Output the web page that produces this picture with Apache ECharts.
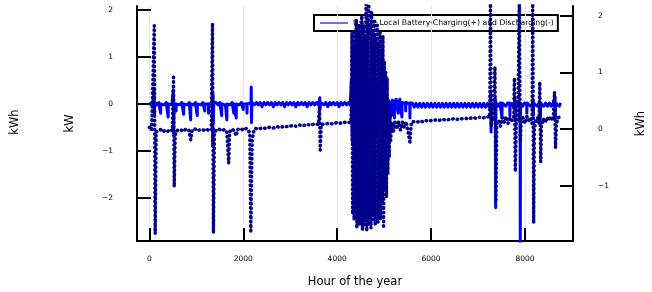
<!DOCTYPE html>
<html>
<head>
<meta charset="utf-8">
<script src="https://cdn.jsdelivr.net/npm/echarts@6/dist/echarts.min.js"></script>
<style>
  html, body { margin: 0; padding: 0; background: #fff; }
  #chart { width: 652px; height: 292px; }
</style>
</head>
<body>
<div id="chart"></div>
<script>
// tick positions
const xTicks = [0, 2000, 4000, 6000, 8000];
const kwTicks = [-2, -1, 0, 1, 2];
const kwhTicks = [-1, 0, 1, 2];

// battery usage, kW  [hour, value]
const usageKW = [
  [0,0.03],[40,-0.02],[80,0.03],[96,0.02],[100,0.3],[106,-0.25],[112,0.03],[160,-0.02],[200,0.03],[236,0.0],[240,-0.2],[244,0.0],
  [280,0.03],[320,-0.02],[360,0.03],[396,0.0],[400,-0.28],[404,0.0],[440,0.03],[480,-0.02],[505,0.02],[510,0.3],[518,-0.66],[526,0.03],
  [566,0.0],[570,-0.15],[574,0.0],[610,0.03],[650,-0.02],[690,0.03],[726,0.0],[730,-0.22],[734,0.0],[770,0.03],[810,-0.02],[850,0.03],
  [876,0.0],[880,-0.34],[884,0.0],[940,-0.02],[980,0.03],[1016,0.0],[1020,-0.25],[1024,0.0],[1060,0.03],[1100,-0.02],[1140,0.03],
  [1176,0.0],[1180,-0.15],[1184,0.0],[1220,0.03],[1256,0.0],[1260,-0.2],[1264,0.0],[1300,0.03],[1336,0.02],[1340,0.26],[1348,-0.9],
  [1356,0.2],[1364,-0.4],[1372,0.03],[1420,0.03],[1460,-0.02],[1500,0.03],[1536,0.0],[1540,-0.25],[1544,0.0],[1580,0.03],[1620,-0.02],
  [1646,0.0],[1650,-0.34],[1654,0.0],[1680,0.03],[1720,-0.02],[1760,0.03],[1796,0.0],[1800,-0.2],[1804,0.0],[1846,0.0],[1850,-0.3],
  [1854,0.0],[1880,0.03],[1920,-0.02],[1960,0.03],[1996,0.0],[2000,-0.12],[2004,0.0],[2040,0.03],[2076,0.0],[2080,-0.2],[2084,0.0],
  [2120,0.03],[2166,0.02],[2170,0.36],[2176,-0.4],[2182,0.03],[2240,-0.02],[2280,0.03],[2320,-0.02],[2360,0.03],[2400,-0.06],[2440,0.03],
  [2480,-0.02],[2520,0.03],[2560,-0.02],[2600,0.03],[2640,-0.06],[2680,0.03],[2720,-0.02],[2760,0.03],[2800,-0.02],[2840,0.03],
  [2880,-0.06],[2920,0.03],[2960,-0.02],[3000,0.03],[3040,-0.02],[3080,0.03],[3120,-0.06],[3160,0.03],[3200,-0.02],[3240,0.03],
  [3280,-0.02],[3320,0.03],[3360,-0.06],[3400,0.03],[3440,-0.02],[3480,0.03],[3520,-0.02],[3560,0.03],[3600,-0.02],[3626,0.02],
  [3630,0.13],[3636,-0.1],[3642,0.03],[3680,0.03],[3720,-0.02],[3760,0.03],[3800,-0.06],[3840,0.03],[3880,-0.02],[3920,0.03],
  [3960,-0.02],[4000,0.03],[4040,-0.06],[4080,0.03],[4120,-0.02],[4160,0.03],[4200,-0.02],[4240,0.03],[4280,-0.02],
  [4300,0.5],[4320,-0.8],[4340,0.4],[4360,-0.9],[4380,0.6],[4400,-0.7],[4420,0.3],[4440,-0.85],[4460,0.55],[4480,-0.75],
  [4500,0.45],[4520,-0.9],[4540,0.6],[4560,-0.8],[4580,0.4],[4600,-0.7],[4620,0.5],[4640,-0.9],[4660,0.35],[4680,-0.8],
  [4700,0.5],[4720,-0.6],[4740,0.4],[4760,-0.75],[4780,0.3],[4800,-0.6],[4820,0.45],[4840,-0.7],[4860,0.3],[4880,-0.5],
  [4900,0.35],[4920,-0.55],[4940,0.25],[4960,-0.45],[4980,0.2],[5000,-0.4],[5020,0.2],[5040,-0.35],[5060,0.15],[5080,-0.3],
  [5100,0.03],[5146,0.0],[5150,-0.25],[5154,0.03],[5176,0.08],[5180,0.0],[5216,0.0],[5220,-0.3],[5224,0.03],[5256,0.1],[5262,0.0],
  [5296,0.0],[5300,-0.2],[5304,0.03],[5336,0.1],[5342,0.0],[5376,0.0],[5380,-0.28],[5384,0.03],[5420,0.03],[5456,0.0],[5460,-0.15],
  [5464,0.03],[5500,0.03],[5546,0.0],[5550,-0.3],[5554,0.02],[5600,0.02],[5640,-0.07],[5680,0.01],[5720,-0.07],[5760,0.01],[5800,-0.07],
  [5840,0.01],[5880,-0.07],[5920,0.01],[5960,-0.07],[6000,0.01],[6040,-0.07],[6080,0.01],[6120,-0.07],[6160,0.01],[6200,-0.07],
  [6240,0.01],[6280,-0.07],[6320,0.01],[6360,-0.07],[6400,0.01],[6440,-0.07],[6480,0.01],[6520,-0.07],[6560,0.01],[6600,-0.07],
  [6640,0.01],[6680,-0.07],[6720,0.01],[6760,-0.07],[6800,0.01],[6840,-0.07],[6880,0.01],[6920,-0.07],[6960,0.01],[7000,-0.07],
  [7040,0.01],[7080,-0.07],[7120,0.01],[7160,-0.07],[7200,0.01],[7240,-0.07],[7266,0.0],[7270,0.25],[7278,-0.6],[7286,0.02],
  [7340,-0.05],[7366,0.0],[7370,0.1],[7376,-2.21],[7382,0.02],[7430,-0.05],[7470,0.02],[7506,0.0],[7510,-0.3],[7514,0.02],
  [7550,0.02],[7590,-0.05],[7630,0.02],[7676,0.0],[7680,-0.25],[7684,0.02],[7720,0.02],[7760,-0.05],[7786,0.02],[7790,0.15],
  [7796,-0.3],[7802,0.02],[7840,0.02],[7880,-0.05],[7896,0.0],[7900,-3.2],[7904,0.02],[7950,-0.05],[7990,0.02],[8036,0.0],
  [8040,-0.2],[8044,0.02],[8080,0.02],[8120,-0.05],[8166,0.02],[8170,0.1],[8176,-0.25],[8182,0.02],[8220,0.02],[8260,-0.05],
  [8300,0.02],[8326,0.0],[8330,-0.3],[8334,0.02],[8360,0.02],[8400,-0.05],[8440,0.02],[8480,-0.05],[8520,0.02],[8560,-0.05],
  [8600,0.02],[8636,0.02],[8640,0.15],[8646,-0.3],[8652,0.02],[8690,0.02],[8730,-0.05],[8760,0.02]
];

// stored energy, kWh  [hour, value]
const storedKWh = [
  [0,0.03],[50,-0.02],[90,-0.03],[105,1.82],[125,-1.85],[145,-0.05],[190,-0.03],[240,-0.01],[290,-0.05],[340,-0.02],
  [390,-0.04],[440,-0.01],[490,-0.03],[515,0.95],[530,-1.02],[550,-0.1],[600,-0.02],[660,-0.01],[720,-0.04],[780,0.0],
  [840,-0.02],[880,-0.19],[910,-0.02],[970,0.0],[1030,-0.03],[1090,-0.01],[1150,-0.02],[1210,0.0],[1270,-0.03],[1320,-0.01],
  [1345,1.87],[1365,-1.83],[1385,-0.1],[1420,-0.02],[1480,0.0],[1540,-0.03],[1600,-0.01],[1650,-0.05],[1690,-0.6],[1710,-0.05],
  [1760,0.0],[1810,-0.03],[1850,-0.12],[1880,-0.01],[1940,0.01],[2000,-0.02],[2060,0.01],[2110,-0.02],[2140,-0.08],[2160,-1.83],
  [2190,-0.2],[2220,-0.05],[2260,0.01],[2320,0.0],[2400,0.02],[2480,0.01],[2560,0.03],[2640,0.02],[2720,0.04],[2800,0.03],
  [2880,0.05],[2960,0.04],[3040,0.06],[3120,0.05],[3200,0.07],[3280,0.06],[3360,0.08],[3440,0.07],[3520,0.09],[3600,0.08],
  [3625,0.4],[3640,-0.37],[3660,0.08],[3740,0.09],[3820,0.1],[3900,0.09],[3980,0.11],[4060,0.1],[4140,0.12],[4220,0.11],
  [4290,0.12],
  [4300,0.3],[4315,1.7],[4330,-1.5],[4345,1.75],[4360,-1.6],[4375,1.5],[4390,-1.4],[4405,1.92],[4420,-1.75],[4435,1.6],
  [4450,-1.65],[4465,1.85],[4480,-1.7],[4495,1.7],[4510,-1.5],[4525,2.0],[4540,-1.78],[4555,1.83],[4570,-1.69],[4585,1.65],
  [4600,-1.6],[4615,2.2],[4630,-1.8],[4645,1.9],[4660,-1.7],[4675,2.2],[4690,-1.65],[4705,1.8],[4720,-1.75],[4735,2.05],
  [4750,-1.55],[4765,1.7],[4780,-1.6],[4795,1.9],[4810,-1.7],[4825,1.6],[4840,-1.5],[4855,1.83],[4870,-1.65],[4885,1.5],
  [4900,-1.4],[4915,1.7],[4930,-1.6],[4945,1.4],[4960,-1.3],[4975,1.65],[4990,-1.75],[5005,1.2],[5020,-1.1],[5035,1.0],
  [5050,-1.2],[5065,0.9],[5080,-0.8],[5095,0.5],[5110,-0.5],[5125,0.3],[5140,-0.2],
  [5160,0.1],[5200,-0.05],[5230,0.12],[5270,0.0],[5310,0.13],[5350,-0.02],[5390,0.12],[5430,0.03],[5470,0.13],[5510,0.1],
  [5550,-0.23],[5580,0.12],[5640,0.13],[5700,0.12],[5760,0.14],[5820,0.13],[5880,0.15],[5940,0.14],[6000,0.15],[6080,0.16],
  [6160,0.15],[6240,0.17],[6320,0.16],[6400,0.17],[6480,0.18],[6560,0.17],[6640,0.18],[6720,0.19],[6800,0.18],[6880,0.2],
  [6960,0.19],[7040,0.21],[7120,0.2],[7200,0.22],[7250,0.21],[7265,2.25],[7280,0.05],[7300,0.2],[7330,0.15],[7360,1.1],
  [7380,-1.25],[7400,0.1],[7440,0.15],[7480,0.05],[7520,0.2],[7560,0.12],[7600,0.22],[7640,0.1],[7680,0.2],[7720,0.15],
  [7760,0.22],[7775,0.9],[7795,-0.75],[7815,0.1],[7850,0.2],[7880,2.25],[7900,-0.23],[7920,0.15],[7960,0.2],[8000,0.1],
  [8040,0.22],[8080,0.15],[8120,0.2],[8150,0.1],[8165,2.25],[8185,-1.66],[8200,0.0],[8230,0.15],[8270,0.2],[8300,0.1],
  [8315,0.83],[8335,-0.58],[8350,0.05],[8390,0.18],[8430,0.12],[8470,0.2],[8510,0.15],[8550,0.22],[8600,0.15],[8630,0.65],
  [8650,-0.33],[8670,0.1],[8710,0.2],[8760,0.22]
];

const FONT = 'DejaVu Sans';
const minus = v => String(v).replace('-', '\u2212');

let myChart = echarts.init(document.getElementById('chart'), null, { renderer: 'canvas' });

myChart.setOption({
    animation: false,
    grid: {
        left: 137, right: 79, top: 6, bottom: 51,
        containLabel: false,
        outerBoundsMode: 'none'
    },
    legend: {
        z: 0,
        left: 314,
        top: 15,
        orient: 'horizontal',
        padding: [4, 4, 4, 6],
        backgroundColor: '#fff',
        borderColor: '#000',
        borderWidth: 2,
        borderRadius: 0,
        itemWidth: 28,
        itemHeight: 2,
        icon: 'rect',
        textStyle: { fontFamily: FONT, fontSize: 7.7, color: '#000' },
        data: [{ name: 'Usage Local Battery-Charging(+) and Discharging(-)', itemStyle: { color: '#6b6bff' } }]
    },
    graphic: [{
        type: 'text',
        x: 15, y: 122,
        rotation: Math.PI / 2,
        style: {
            text: 'kWh', fontFamily: FONT, fontSize: 11.5, fill: '#000',
            align: 'center', verticalAlign: 'middle'
        }
    }],
    xAxis: {
        type: 'value',
        min: -263, max: 9023,
        name: 'Hour of the year',
        nameLocation: 'middle',
        nameGap: 35,
        nameTextStyle: { fontFamily: FONT, fontSize: 11.5, color: '#000' },
        axisLine: { show: true, onZero: false, lineStyle: { color: '#000', width: 2 } },
        axisTick: { show: true, inside: true, length: 13, customValues: xTicks, lineStyle: { color: '#000', width: 2 } },
        axisLabel: { customValues: xTicks, margin: 14, fontFamily: FONT, fontSize: 7.5, color: '#000', formatter: v => String(v) },
        splitLine: { show: true, lineStyle: { color: '#e6e6e6', width: 1 } }
    },
    yAxis: [{
        type: 'value',
        position: 'left',
        min: -2.92, max: 2.085,
        name: 'kW',
        nameLocation: 'middle',
        nameRotate: 90,
        nameGap: 61,
        nameTextStyle: { fontFamily: FONT, fontSize: 11.5, color: '#000' },
        axisLine: { show: true, onZero: false, lineStyle: { color: '#000', width: 2 } },
        axisTick: { show: true, inside: true, length: 14, customValues: kwTicks, lineStyle: { color: '#000', width: 2 } },
        axisLabel: { customValues: kwTicks, margin: 24, fontFamily: FONT, fontSize: 7.5, color: '#000', formatter: minus },
        splitLine: { show: false }
    }, {
        type: 'value',
        position: 'right',
        min: -1.975, max: 2.17,
        name: 'kWh',
        nameLocation: 'middle',
        nameRotate: 90,
        nameGap: 62,
        nameTextStyle: { fontFamily: FONT, fontSize: 11.5, color: '#000' },
        axisLine: { show: true, onZero: false, lineStyle: { color: '#000', width: 2 } },
        axisTick: { show: true, inside: true, length: 13, customValues: kwhTicks, lineStyle: { color: '#000', width: 2 } },
        axisLabel: { customValues: kwhTicks, margin: 25, fontFamily: FONT, fontSize: 7.5, color: '#000', formatter: minus },
        splitLine: { show: false }
    }],
    series: [{
        name: 'Usage Local Battery-Charging(+) and Discharging(-)',
        type: 'line',
        z: 3,
        yAxisIndex: 0,
        showSymbol: false,
        symbol: 'none',
        clip: true,
        lineStyle: { color: '#0000ff', width: 3, join: 'round' },
        itemStyle: { color: '#0000ff' },
        data: usageKW
    }, {
        name: 'stored',
        type: 'line',
        z: 4,
        yAxisIndex: 1,
        showSymbol: false,
        symbol: 'none',
        clip: true,
        lineStyle: { color: '#00008b', width: 3.5, type: [0.5, 4], cap: 'round', join: 'round' },
        itemStyle: { color: '#00008b' },
        data: storedKWh
    }]
});
</script>
</body>
</html>
